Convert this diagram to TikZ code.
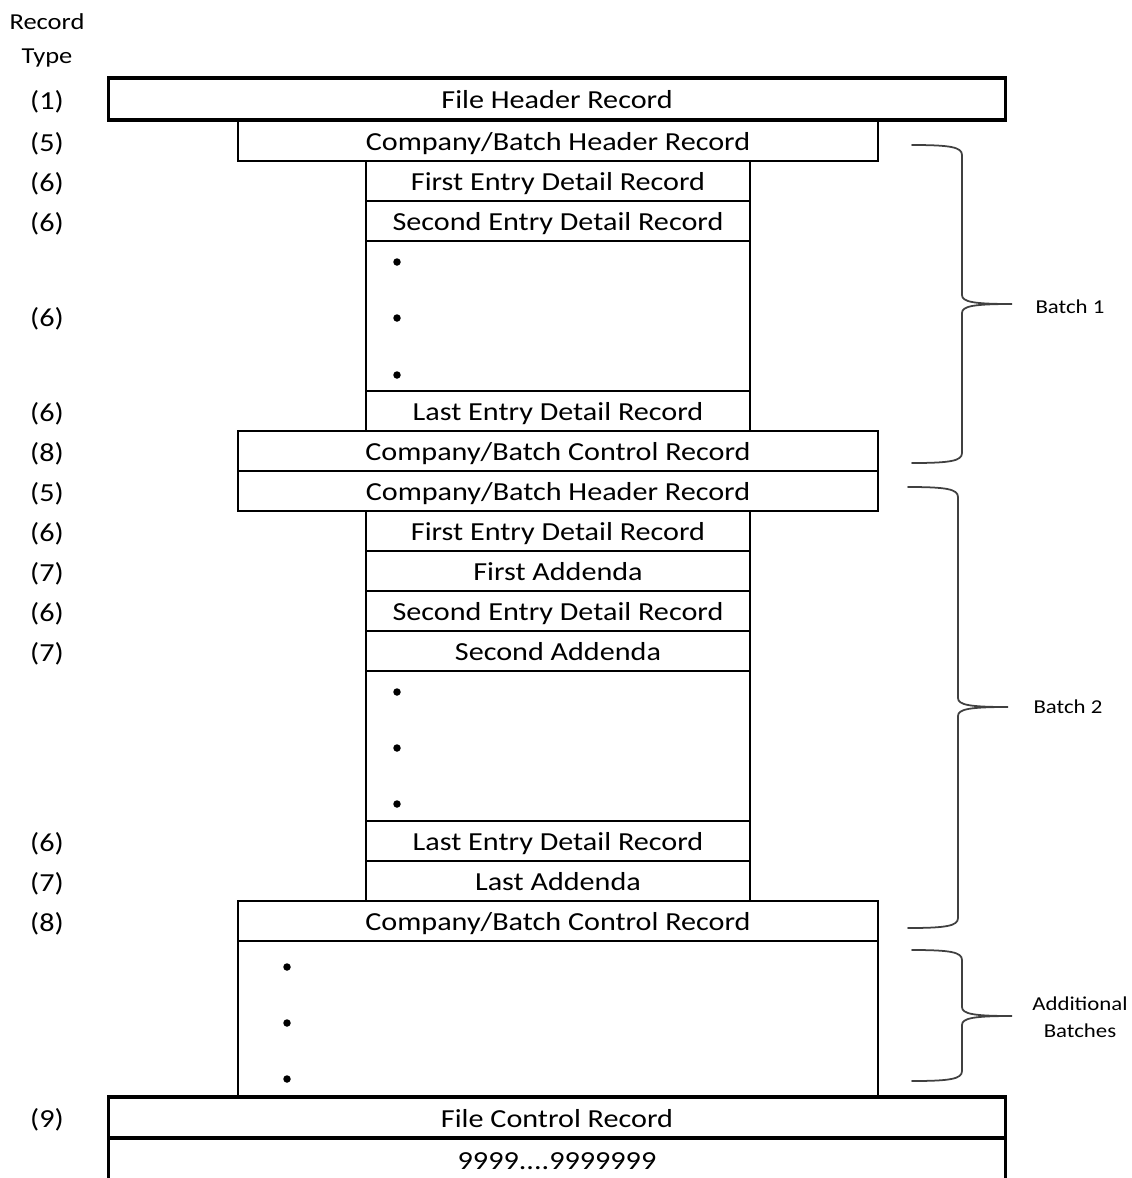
\documentclass[tikz,border=0pt]{standalone}
\usepackage{fontspec}
\setmainfont{Carlito}[FakeStretch = 1.16]
\usepackage{tikz}

\begin{document}
\begin{tikzpicture}[%
        x = 0.02cm,
        y = -0.02cm,
        line cap = round,
        every node/.style = {font = \fontsize{14.8}{18}\selectfont, inner sep = 0pt},
        rec/.style = {draw, line width = 0.9pt, minimum height = 0.8cm, text height = 13pt, text depth = 2pt},
        narrowrec/.style = {rec, minimum width = 7.68cm},
        midrec/.style = {rec, minimum width = 12.8cm},
        widerec/.style = {rec, line width = 1.8pt, minimum width = 17.96cm},
        rowlabel/.style = {text height = 13pt, text depth = 2pt},
        sidelabel/.style = {font = \fontsize{11.2}{15.3}\selectfont, align = center},
        bracket/.style = {draw = black!75, line width = 1pt}
    ]

        % Fix the page to the size of the picture.
        \useasboundingbox (0,0) rectangle (1132,1178);

        % Heading of the left column.
        \node[font = \fontsize{13}{19.3}\selectfont, align = center] (rtype) at (47,40) {Record\\Type};

        % Record type of each row.
        \foreach \t/\yy [count = \i] in {1/100, 5/142, 6/182, 6/222, 6/317, 6/412, 8/452,
                5/492, 6/532, 7/572, 6/612, 7/652, 6/842, 7/882, 8/922, 9/1118}
            \node[rowlabel] (type\i) at (47,\yy) {(\t)};

        % File header.
        \node[widerec, minimum height = 0.84cm] (fhead) at (557,99) {File Header Record};

        % First batch.
        \node[midrec] (bhead1) at (558,141) {Company/Batch Header Record};
        \node[narrowrec] (first1) at (558,181) {First Entry Detail Record};
        \node[narrowrec] (second1) at (558,221) {Second Entry Detail Record};
        \node[narrowrec, minimum height = 3cm] (gap1) at (558,316) {};
        \node[narrowrec] (last1) at (558,411) {Last Entry Detail Record};
        \node[midrec] (bctrl1) at (558,451) {Company/Batch Control Record};

        % Second batch, with addenda.
        \node[midrec] (bhead2) at (558,491) {Company/Batch Header Record};
        \node[narrowrec] (first2) at (558,531) {First Entry Detail Record};
        \node[narrowrec] (firstadd2) at (558,571) {First Addenda};
        \node[narrowrec] (second2) at (558,611) {Second Entry Detail Record};
        \node[narrowrec] (secondadd2) at (558,651) {Second Addenda};
        \node[narrowrec, minimum height = 3cm] (gap2) at (558,746) {};
        \node[narrowrec] (last2) at (558,841) {Last Entry Detail Record};
        \node[narrowrec] (lastadd2) at (558,881) {Last Addenda};
        \node[midrec] (bctrl2) at (558,921) {Company/Batch Control Record};

        % Room for more batches.
        \node[midrec, minimum height = 3.12cm] (more) at (558,1019) {};

        % File control, running off the bottom of the page.
        \node[widerec, minimum height = 0.82cm] (fctrl) at (557,1117.5) {File Control Record};
        \node[widerec, minimum height = 0.88cm] (nines) at (557,1160) {9999....9999999};

        % Dots for the records left out.
        \foreach \yy in {262, 318, 375, 692, 748, 804}
            \fill (397,\yy) circle (0.075cm);
        \foreach \yy in {967, 1023, 1079}
            \fill (287,\yy) circle (0.075cm);

        % Curly brackets round each batch.
        \foreach \bx/\top/\mid/\bot in {912/145/304/463, 908/487/707/928, 912/950/1016/1081}
            \draw[bracket] (\bx,\top) .. controls ({\bx+38},\top) and ({\bx+50},{\top+2}) .. ({\bx+50},{\top+10})
                -- ({\bx+50},{\mid-9}) .. controls ({\bx+50},{\mid-2}) and ({\bx+62},\mid) .. ({\bx+100},\mid)
                .. controls ({\bx+62},\mid) and ({\bx+50},{\mid+2}) .. ({\bx+50},{\mid+9})
                -- ({\bx+50},{\bot-10}) .. controls ({\bx+50},{\bot-2}) and ({\bx+38},\bot) .. (\bx,\bot);

        % Names of the bracketed groups.
        \node[sidelabel] (batch1) at (1070,307) {Batch 1};
        \node[sidelabel] (batch2) at (1068,707) {Batch 2};
        \node[sidelabel] (addbatches) at (1080,1017) {Additional\\Batches};
    \end{tikzpicture}
\end{document}
